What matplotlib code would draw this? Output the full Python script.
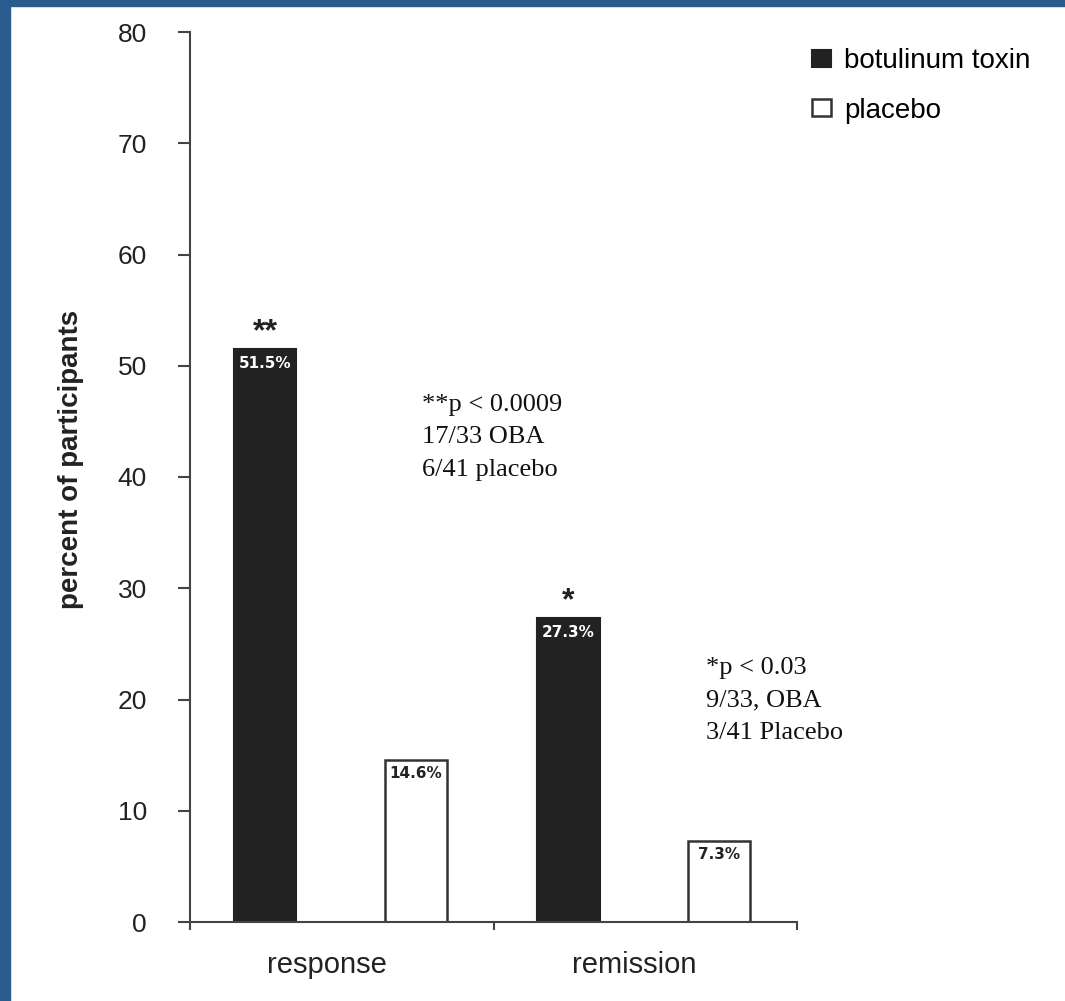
import numpy as np
import matplotlib.pyplot as plt
from matplotlib.patches import Rectangle

outcomes = ['response', 'remission']
toxin = [51.5, 27.3]
placebo = [14.6, 7.3]
stars = ['**', '*']
notes = ['**p < 0.0009\n17/33 OBA\n6/41 placebo',
         '*p < 0.03\n9/33, OBA\n3/41 Placebo']
yticks = np.arange(0, 81, 10)

plt.rcParams['font.family'] = ['Liberation Sans', 'DejaVu Sans']

fig = plt.figure(figsize=(10.65, 10.01), dpi=100)
W, H = 1065, 1001
ax = fig.add_axes([190 / W, 1 - 922 / H, (797 - 190) / W, (922 - 32) / H])

# blue frame along the top and left edges
fig.patches.append(Rectangle((0, 1 - 6 / H), 1, 6 / H, transform=fig.transFigure,
                             color='#2a5b8d', zorder=0))
fig.patches.append(Rectangle((0, 0), 10 / W, 1, transform=fig.transFigure,
                             color='#2a5b8d', zorder=0))

x = np.arange(len(outcomes))
w = 0.205
b1 = ax.bar(x + 0.247, toxin, w, color='#222222', edgecolor='#222222', lw=1.5,
            label='botulinum toxin')
b2 = ax.bar(x + 0.744, placebo, w, color='white', edgecolor='#333333', lw=1.8,
            label='placebo')

for i in range(len(outcomes)):
    ax.text(x[i] + 0.247, toxin[i] - 0.6, f'{toxin[i]}%', ha='center', va='top',
            color='white', fontsize=11, fontweight='bold', family='DejaVu Sans')
    ax.text(x[i] + 0.744, placebo[i] - 0.6, f'{placebo[i]}%', ha='center', va='top',
            color='#222222', fontsize=11, fontweight='bold', family='DejaVu Sans')
    ax.text(x[i] + 0.247, toxin[i] + 0.15, stars[i], ha='center', va='bottom',
            fontsize=23, fontweight='bold', color='#222222')

ax.text(0.764, 47.5, notes[0], fontsize=19, family='Liberation Serif',
        va='top', linespacing=1.62, color='#111111')
ax.text(1.701, 23.8, notes[1], fontsize=19, family='Liberation Serif',
        va='top', linespacing=1.62, color='#111111')

ax.set_xlim(0, 2)
ax.set_ylim(0, 80)
ax.set_yticks(yticks)
ax.tick_params(axis='y', direction='out', length=9, width=1.5, pad=22,
               labelsize=19, colors='#444444', labelcolor='#222222')
ax.set_xticks([0, 1, 2])
ax.set_xticklabels([])
ax.tick_params(axis='x', which='major', direction='out', length=6, width=1.5,
               colors='#444444')
ax.set_xticks([0.45, 1.465], minor=True)
ax.set_xticklabels(outcomes, minor=True)
ax.tick_params(axis='x', which='minor', length=0, pad=21, labelsize=21,
               labelcolor='#222222')

for s in ['top', 'right']:
    ax.spines[s].set_visible(False)
for s in ['left', 'bottom']:
    ax.spines[s].set_color('#444444')
    ax.spines[s].set_linewidth(1.5)

ax.set_ylabel('percent of participants', fontsize=20, fontweight='bold',
              color='#222222')
ax.yaxis.set_label_coords(-0.175, 0.52)

ax.legend(loc='upper left', bbox_to_anchor=(812 / W, 1 - 48 / H),
          bbox_transform=fig.transFigure, frameon=False, fontsize=20,
          handlelength=0.7, handleheight=0.55, handletextpad=0.45,
          labelspacing=0.85, borderpad=0, borderaxespad=0)

fig.savefig('out.png', dpi=100)
